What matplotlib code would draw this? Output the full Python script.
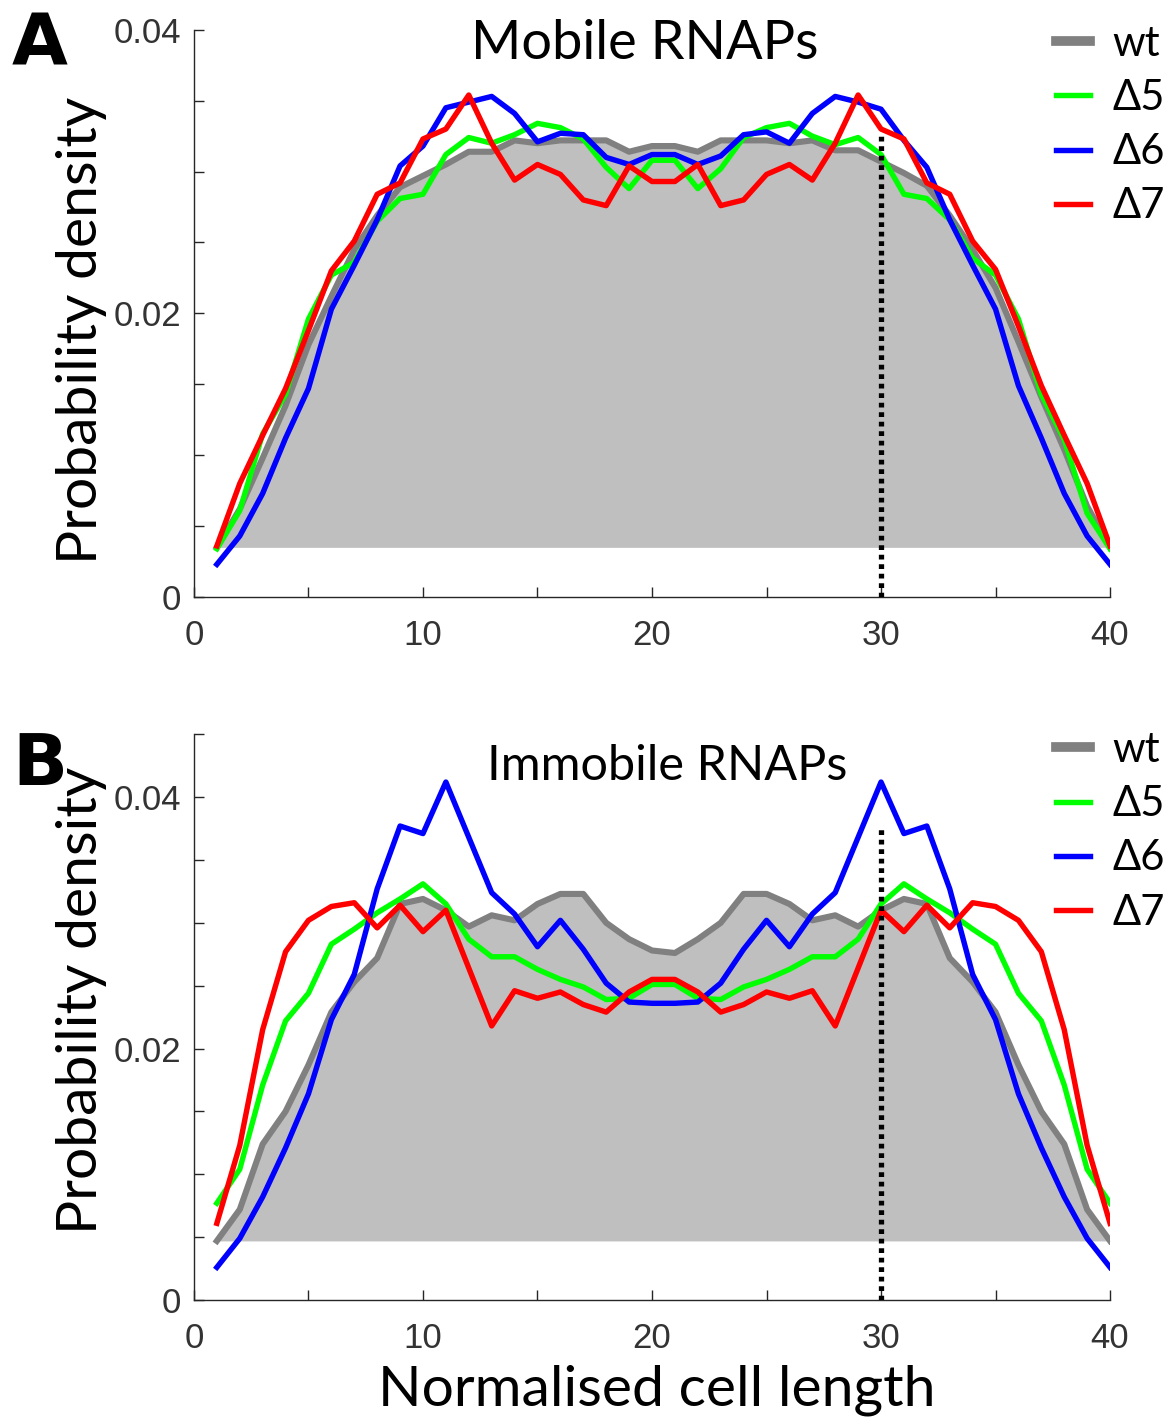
import numpy as np
import matplotlib
matplotlib.use("Agg")
import matplotlib.pyplot as plt

# positions along the cell (bins 1..40)
x = np.arange(1, 41)

# panel A: mobile RNAPs
wt_mob = [0.0035, 0.0062, 0.0098, 0.0135, 0.0178, 0.0212, 0.0245, 0.0269, 0.0289, 0.0297,
          0.0305, 0.0314, 0.0314, 0.0322, 0.0320, 0.0322, 0.0322, 0.0322, 0.0314, 0.0318,
          0.0318, 0.0314, 0.0322, 0.0322, 0.0322, 0.0320, 0.0322, 0.0315, 0.0315, 0.0307,
          0.0299, 0.0290, 0.0269, 0.0245, 0.0218, 0.0180, 0.0141, 0.0104, 0.0064, 0.0035]
d5_mob = [0.0034, 0.0061, 0.0115, 0.0143, 0.0196, 0.0227, 0.0236, 0.0265, 0.0281, 0.0284,
          0.0312, 0.0324, 0.0320, 0.0326, 0.0334, 0.0331, 0.0323, 0.0303, 0.0288, 0.0308,
          0.0308, 0.0288, 0.0302, 0.0324, 0.0331, 0.0334, 0.0325, 0.0319, 0.0324, 0.0312,
          0.0284, 0.0281, 0.0266, 0.0239, 0.0227, 0.0196, 0.0143, 0.0111, 0.0059, 0.0034]
d6_mob = [0.0023, 0.0043, 0.0073, 0.0112, 0.0147, 0.0203, 0.0234, 0.0266, 0.0304, 0.0318,
          0.0345, 0.0349, 0.0353, 0.0341, 0.0321, 0.0327, 0.0326, 0.0310, 0.0305, 0.0312,
          0.0312, 0.0305, 0.0311, 0.0326, 0.0328, 0.0320, 0.0341, 0.0353, 0.0349, 0.0344,
          0.0322, 0.0303, 0.0266, 0.0234, 0.0203, 0.0149, 0.0112, 0.0073, 0.0043, 0.0023]
d7_mob = [0.0036, 0.0080, 0.0114, 0.0147, 0.0188, 0.0230, 0.0251, 0.0284, 0.0292, 0.0323,
          0.0330, 0.0354, 0.0320, 0.0294, 0.0305, 0.0298, 0.0280, 0.0276, 0.0304, 0.0293,
          0.0293, 0.0305, 0.0276, 0.0280, 0.0298, 0.0305, 0.0294, 0.0320, 0.0354, 0.0330,
          0.0323, 0.0292, 0.0284, 0.0251, 0.0231, 0.0191, 0.0149, 0.0114, 0.0080, 0.0036]

# panel B: immobile RNAPs
wt_imm = [0.0047, 0.0072, 0.0124, 0.0150, 0.0187, 0.0229, 0.0253, 0.0272, 0.0315, 0.0319,
          0.0310, 0.0297, 0.0306, 0.0302, 0.0315, 0.0323, 0.0323, 0.0300, 0.0287, 0.0278,
          0.0276, 0.0287, 0.0300, 0.0323, 0.0323, 0.0315, 0.0302, 0.0306, 0.0297, 0.0310,
          0.0319, 0.0315, 0.0272, 0.0253, 0.0229, 0.0187, 0.0150, 0.0124, 0.0072, 0.0047]
d5_imm = [0.0077, 0.0104, 0.0171, 0.0222, 0.0244, 0.0283, 0.0295, 0.0308, 0.0319, 0.0331,
          0.0315, 0.0287, 0.0273, 0.0273, 0.0263, 0.0255, 0.0249, 0.0239, 0.0240, 0.0251,
          0.0251, 0.0240, 0.0239, 0.0249, 0.0255, 0.0263, 0.0273, 0.0273, 0.0287, 0.0315,
          0.0331, 0.0319, 0.0308, 0.0295, 0.0283, 0.0244, 0.0222, 0.0171, 0.0104, 0.0077]
d6_imm = [0.0026, 0.0049, 0.0082, 0.0121, 0.0164, 0.0223, 0.0259, 0.0327, 0.0377, 0.0371,
          0.0412, 0.0368, 0.0324, 0.0307, 0.0281, 0.0302, 0.0279, 0.0252, 0.0237, 0.0236,
          0.0236, 0.0237, 0.0252, 0.0279, 0.0302, 0.0281, 0.0307, 0.0324, 0.0368, 0.0412,
          0.0371, 0.0377, 0.0327, 0.0259, 0.0223, 0.0164, 0.0121, 0.0082, 0.0049, 0.0026]
d7_imm = [0.0061, 0.0123, 0.0215, 0.0277, 0.0302, 0.0313, 0.0316, 0.0296, 0.0314, 0.0293,
          0.0310, 0.0264, 0.0218, 0.0246, 0.0240, 0.0245, 0.0235, 0.0229, 0.0245, 0.0255,
          0.0255, 0.0245, 0.0229, 0.0235, 0.0245, 0.0240, 0.0246, 0.0218, 0.0264, 0.0310,
          0.0293, 0.0314, 0.0296, 0.0316, 0.0313, 0.0302, 0.0277, 0.0215, 0.0123, 0.0061]

labels = ["wt", "\u03945", "\u03946", "\u03947"]
colors = ["#808080", "#00ff00", "#0000ff", "#ff0000"]
marker_x = 30
marker_top = {"A": 0.0325, "B": 0.0375}

big_font = ["Lato", "DejaVu Sans"]
tick_font = "Liberation Sans"

fig = plt.figure(figsize=(11.67, 14.18), dpi=100)
ax_a = fig.add_axes([0.1662, 0.579, 0.785, 0.400])
ax_b = fig.add_axes([0.1662, 0.0832, 0.785, 0.399])


def draw_panel(ax, series, ytop, key, title, tx, ty, tsize, legy):
    wt = np.asarray(series[0])
    ax.fill_between(x, wt, wt.min(), color="#bfbfbf", lw=0, zorder=1)
    for s, c, lab in zip(series, colors, labels):
        lw = 4.4 if lab == "wt" else 3.9
        ax.plot(x, s, color=c, lw=lw, label=lab, zorder=2 if lab == "wt" else 3)
    ax.plot([marker_x, marker_x], [0, marker_top[key]], color="black", lw=3.8,
            ls=(0, (0.9, 0.9)), zorder=4)
    ax.set_xlim(0, 40)
    ax.set_ylim(0, ytop)
    ax.set_xticks(np.arange(0, 41, 5))
    ax.set_xticklabels(["0", "", "10", "", "20", "", "30", "", "40"])
    yt = np.arange(0, ytop + 1e-9, 0.005)
    ax.set_yticks(yt)
    ylabs = []
    for v in yt:
        k = int(round(v * 1000))
        ylabs.append("0" if k == 0 else ("%.2f" % v if k % 20 == 0 else ""))
    ax.set_yticklabels(ylabs)
    for sp in ["top", "right"]:
        ax.spines[sp].set_visible(False)
    for sp in ["left", "bottom"]:
        ax.spines[sp].set_color("#262626")
        ax.spines[sp].set_linewidth(1.0)
    ax.tick_params(direction="in", length=7, width=1.0, color="#262626",
                   labelsize=25, labelcolor="#333333")
    ax.tick_params(axis="x", pad=16)
    ax.tick_params(axis="y", pad=9)
    for t in ax.get_xticklabels() + ax.get_yticklabels():
        t.set_family(tick_font)
    ax.text(tx, ty, title, transform=ax.transAxes, ha="center", va="center",
            fontsize=tsize, family=big_font)
    leg = ax.legend(loc="upper left", bbox_to_anchor=(0.9415, legy),
                    frameon=False, handlelength=0.8, handletextpad=0.55,
                    borderpad=0, borderaxespad=0,
                    labelspacing=0.39, prop={"family": big_font, "size": 30})
    leg.get_lines()[0].set_linewidth(7)
    leg.set_zorder(10)


draw_panel(ax_a, [wt_mob, d5_mob, d6_mob, d7_mob], 0.04, "A", "Mobile RNAPs",
           0.492, 0.975, 39, 1.009)
draw_panel(ax_b, [wt_imm, d5_imm, d6_imm, d7_imm], 0.045, "B", "Immobile RNAPs",
           0.517, 0.943, 35, 1.006)

fig.text(40 / 1167, 1 - 45 / 1418, "A", fontsize=52, fontweight="bold",
         ha="center", va="center", family=["DejaVu Sans"])
fig.text(40 / 1167, 1 - 765 / 1418, "B", fontsize=52, fontweight="bold",
         ha="center", va="center", family=["DejaVu Sans"])
fig.text(82 / 1167, 1 - 330 / 1418, "Probability density", rotation=90,
         fontsize=41, ha="center", va="center", family=big_font)
fig.text(82 / 1167, 1 - 1000 / 1418, "Probability density", rotation=90,
         fontsize=41, ha="center", va="center", family=big_font)
fig.text(657 / 1167, 1 - 1390 / 1418, "Normalised cell length",
         fontsize=41, ha="center", va="center", family=big_font)

fig.savefig("out.png", dpi=100)
